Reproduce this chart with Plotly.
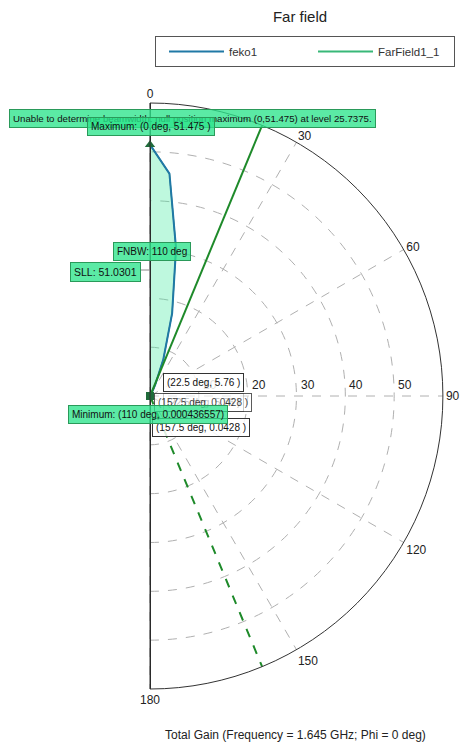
import plotly.graph_objects as go

W, H = 462, 749

# ---- data ----
theta_deg = [0, 5, 10, 15, 20, 25, 30, 35, 40, 45, 50, 55, 60, 65, 70, 75, 80, 85, 90,
             95, 100, 105, 110, 115, 120, 125, 130, 135, 140, 145, 150, 155, 160, 165,
             170, 175, 180]
feko1_gain = [51.475, 45.7, 30.7, 17.5, 8.0, 2.5, 0.55, 0.12, 0.05, 0.04, 0.03, 0.02, 0.02,
              0.015, 0.01, 0.008, 0.006, 0.004, 0.003, 0.002, 0.0012, 0.0008, 0.000436557,
              0.0007, 0.001, 0.0015, 0.002, 0.003, 0.005, 0.008, 0.012, 0.035, 0.05, 0.06,
              0.08, 0.09, 0.1]
fnbw_end = 110
max_point = (0, 51.475)
min_point = (110, 0.000436557)
beam_angles = [22.5, 157.5]
r_max = 60
angular_ticks = [0, 30, 60, 90, 120, 150, 180]
radial_ticks = [10, 20, 30, 40, 50]

BLUE = "#2079a6"
DKGREEN = "#1e8a2a"
LEGGREEN = "#38b878"
FONT = "Liberation Sans, Arial, sans-serif"

# polar frame geometry (pixels)
CX, TOP, BOT = 150, 103, 689
R_PX = (BOT - TOP) / 2
CY = TOP + R_PX

fig = go.Figure()

# FNBW shaded region (under the curve from 0 to FNBW end)
fill_t = [t for t in theta_deg if t <= fnbw_end]
fill_r = feko1_gain[:len(fill_t)]
fig.add_trace(go.Scatterpolar(
    r=fill_r + [0], theta=fill_t + [fnbw_end], mode="lines", fill="toself",
    fillcolor="rgba(70,235,160,0.35)", line=dict(color="#1f7a40", width=1.2),
    showlegend=False, hoverinfo="skip"))

# frame edge (straight side of the half disk)
fig.add_trace(go.Scatterpolar(
    r=[r_max, 0, r_max], theta=[0, 0, 180], mode="lines",
    line=dict(color="#222", width=2), showlegend=False, hoverinfo="skip"))

# feko1
fig.add_trace(go.Scatterpolar(
    r=feko1_gain, theta=theta_deg, mode="lines", name="feko1",
    line=dict(color=BLUE, width=2)))

# FarField1_1 beam lines
fig.add_trace(go.Scatterpolar(
    r=[0, r_max], theta=[beam_angles[0], beam_angles[0]], mode="lines",
    line=dict(color=DKGREEN, width=2), showlegend=False))
fig.add_trace(go.Scatterpolar(
    r=[0, r_max], theta=[beam_angles[1], beam_angles[1]], mode="lines",
    line=dict(color=DKGREEN, width=2, dash="dash"), showlegend=False))
fig.add_trace(go.Scatterpolar(
    r=[None], theta=[None], mode="lines", name="FarField1_1",
    line=dict(color=LEGGREEN, width=2)))

# markers
fig.add_trace(go.Scatterpolar(
    r=[max_point[1]], theta=[max_point[0]], mode="markers", cliponaxis=False,
    marker=dict(symbol="triangle-up", size=9, color="#1f6b3a"),
    showlegend=False))
fig.add_trace(go.Scatterpolar(
    r=[min_point[1]], theta=[min_point[0]], mode="markers", cliponaxis=False,
    marker=dict(symbol="square", size=8, color="#1f6b3a"),
    showlegend=False))


def px(x, y):
    return x / W, 1 - y / H


GREEN_BG = "rgba(45,228,140,0.78)"
GREEN_BD = "#2a9a5a"
WHITE_BG = "rgba(255,255,255,0.85)"
WHITE_BD = "#333333"

anns = []

# radial tick labels (along the 90 deg line)
for rv in radial_ticks:
    ax, ay = px(CX + rv / r_max * R_PX + 2, CY - 11)
    anns.append(dict(text=str(rv), x=ax, y=ay, xref="paper", yref="paper",
                     xanchor="left", yanchor="middle", showarrow=False,
                     font=dict(family=FONT, size=12, color="#222")))


def box(text, x, y, bg, bd, opacity=1.0, anchor="left", size=10):
    ax, ay = px(x, y)
    anns.append(dict(text=text, x=ax, y=ay, xref="paper", yref="paper",
                     xanchor=anchor, yanchor="top", showarrow=False,
                     bgcolor=bg, bordercolor=bd, borderwidth=1, borderpad=3,
                     opacity=opacity,
                     font=dict(family=FONT, size=size, color="#111")))


box("Unable to determine beamwidth: null position maximum (0,%g) at level %g."
    % (max_point[1], max_point[1] / 2), 9, 109, GREEN_BG, GREEN_BD, size=9.7)
box("Maximum: (%g deg, %g )" % max_point, 87, 117, GREEN_BG, GREEN_BD)
box("FNBW: %g deg" % fnbw_end, 113, 242, GREEN_BG, GREEN_BD)
box("SLL: 51.0301", 141, 262, GREEN_BG, GREEN_BD, anchor="right", size=10.5)
box("(22.5 deg, 5.76 )", 163, 373, WHITE_BG, WHITE_BD)
box("(22.5 deg, 5.76 )", 163, 393, WHITE_BG, WHITE_BD, 0.5)
box("(157.5 deg, 0.0428 )", 154, 393, "rgba(255,255,255,0.6)", WHITE_BD, 0.8)
box("(157.5 deg, 0.0428 )", 152, 418, WHITE_BG, WHITE_BD)
box("Minimum: (%g deg, %g)" % min_point, 68, 405, GREEN_BG, GREEN_BD)

tx, ty = px(295, 735)
anns.append(dict(text="Total Gain (Frequency = 1.645 GHz; Phi = 0 deg)", x=tx, y=ty,
                 xref="paper", yref="paper", xanchor="center", yanchor="middle",
                 showarrow=False, font=dict(family=FONT, size=12, color="#222")))

x0, y0 = px(141, 270)
x1, y1 = px(150, 270)
shapes = [dict(type="line", xref="paper", yref="paper", x0=x0, y0=y0, x1=x1, y1=y1,
               line=dict(color="#888", width=1))]

dx0, dy0 = px(CX, BOT)
dx1, dy1 = px(CX + R_PX, TOP)
lx, ly = px(155, 36)
ttx, tty = px(300, 17)

fig.update_layout(
    width=W, height=H, margin=dict(l=0, r=0, t=0, b=0),
    paper_bgcolor="white", plot_bgcolor="white",
    font=dict(family=FONT, size=12, color="#222"),
    title=dict(text="Far field", x=ttx, y=tty, xanchor="center", yanchor="middle",
               font=dict(family=FONT, size=15, color="#222")),
    legend=dict(orientation="h", x=lx, y=ly, xanchor="left", yanchor="top",
                bordercolor="#555", borderwidth=1, bgcolor="white",
                font=dict(family=FONT, size=11.5, color="#333"),
                itemwidth=55, indentation=8,
                entrywidth=71, entrywidthmode="pixels"),
    polar=dict(
        domain=dict(x=[dx0, dx1], y=[dy0, dy1]),
        sector=[-90, 90],
        bgcolor="white",
        angularaxis=dict(rotation=90, direction="clockwise",
                         tickvals=angular_ticks, ticks="",
                         showline=True, linecolor="#333", linewidth=1,
                         showgrid=True, gridcolor="#b0b0b0", griddash="dash",
                         tickfont=dict(family=FONT, size=12, color="#222")),
        radialaxis=dict(range=[0, r_max], tickvals=radial_ticks, angle=0,
                        showticklabels=False, ticks="", showline=False,
                        showgrid=True, gridcolor="#b0b0b0", griddash="dash"),
    ),
    annotations=anns, shapes=shapes,
)

fig.write_html("out.html", config={"displayModeBar": False},
               post_script="document.body.style.margin='0px';"
                           "document.body.style.padding='0px';")
